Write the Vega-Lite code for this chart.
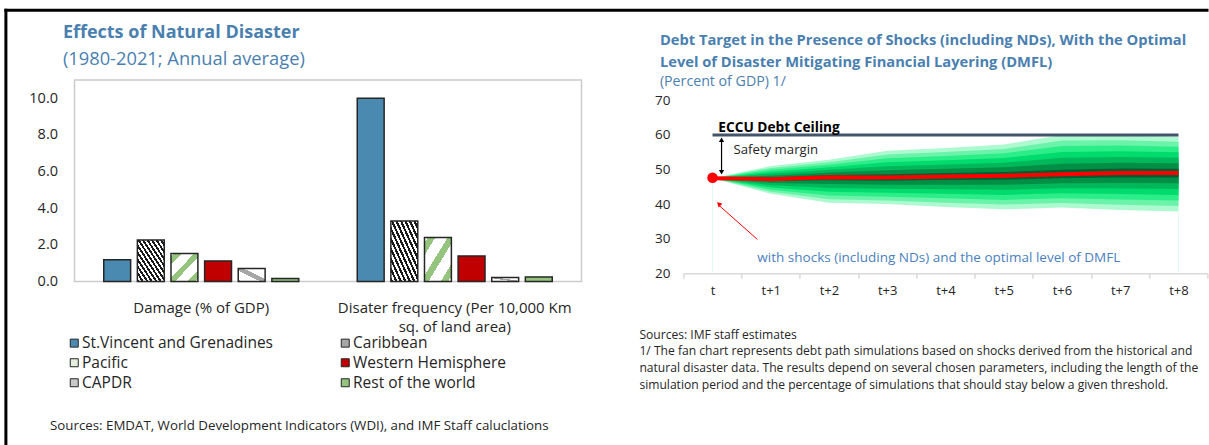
{
  "$schema": "https://vega.github.io/schema/vega-lite/v6.json",
  "background": "white",
  "padding": {"left": 1.5, "top": 9, "right": 0, "bottom": 0},
  "config": {
    "font": "Open Sans",
    "view": {"stroke": null},
    "axis": {"labelFont": "Open Sans", "titleFont": "Open Sans"},
    "legend": {"labelFont": "Open Sans"},
    "title": {"font": "Open Sans", "subtitleFont": "Open Sans"}
  },
  "bounds": "flush",
  "spacing": 101.9,
  "resolve": {"scale": {"fill": "independent", "color": "independent", "x": "independent", "y": "independent"}, "legend": {"fill": "independent", "color": "independent"}},
  "hconcat": [
    {
      "width": 507,
      "height": 201.6,
      "view": {"stroke": "#cccccc", "strokeWidth": 1.5},
      "title": {
        "text": "Effects of Natural Disaster",
        "subtitle": "(1980-2021; Annual average)",
        "anchor": "start", "frame": "group", "dx": -11.6, "offset": -58.5,
        "fontSize": 18, "fontWeight": "bold", "color": "#4a7fb0",
        "subtitleFontSize": 18.3, "subtitleColor": "#4a7fb0", "subtitlePadding": 9
      },
      "resolve": {"scale": {"x": "independent", "y": "independent"}, "axis": {"x": "independent", "y": "independent"}},
      "layer": [
        {
          "data": {"values": [
            {"group": "Damage (% of GDP)", "series": "St.Vincent and Grenadines", "value": 1.19},
            {"group": "Damage (% of GDP)", "series": "Caribbean", "value": 2.27},
            {"group": "Damage (% of GDP)", "series": "Pacific", "value": 1.53},
            {"group": "Damage (% of GDP)", "series": "Western Hemisphere", "value": 1.13},
            {"group": "Damage (% of GDP)", "series": "CAPDR", "value": 0.71},
            {"group": "Damage (% of GDP)", "series": "Rest of the world", "value": 0.17},
            {"group": "Disater frequency (Per 10,000 Km sq. of land area)", "series": "St.Vincent and Grenadines", "value": 10.0},
            {"group": "Disater frequency (Per 10,000 Km sq. of land area)", "series": "Caribbean", "value": 3.31},
            {"group": "Disater frequency (Per 10,000 Km sq. of land area)", "series": "Pacific", "value": 2.4},
            {"group": "Disater frequency (Per 10,000 Km sq. of land area)", "series": "Western Hemisphere", "value": 1.4},
            {"group": "Disater frequency (Per 10,000 Km sq. of land area)", "series": "CAPDR", "value": 0.22},
            {"group": "Disater frequency (Per 10,000 Km sq. of land area)", "series": "Rest of the world", "value": 0.25}
          ]},
          "mark": {"type": "bar", "stroke": "#262626", "strokeWidth": 1.5},
          "encoding": {
            "x": {
              "field": "group", "type": "nominal",
              "sort": ["Damage (% of GDP)", "Disater frequency (Per 10,000 Km sq. of land area)"],
              "scale": {"paddingInner": 0, "paddingOuter": 0},
              "axis": {
                "orient": "bottom",
                "labelExpr": "datum.value == 'Disater frequency (Per 10,000 Km sq. of land area)' ? ['Disater frequency (Per 10,000 Km', 'sq. of land area)'] : datum.label",
                "labelAngle": 0, "labelFontSize": 15, "labelColor": "#262626", "labelPadding": 19, "labelLineHeight": 18.5,
                "labelBaseline": "top", "labelLimit": 400,
                "ticks": false, "domain": false, "grid": false,
                "title": "Sources: EMDAT, World Development Indicators (WDI), and IMF Staff caluclations",
                "titleX": -25, "titleY": 144, "titleAlign": "left", "titleBaseline": "middle", "titleAnchor": "start",
                "titleFontSize": 13.3, "titleFontWeight": "normal", "titleColor": "#262626"
              }
            },
            "xOffset": {
              "field": "series", "type": "nominal",
              "sort": ["St.Vincent and Grenadines", "Caribbean", "Pacific", "Western Hemisphere", "CAPDR", "Rest of the world"],
              "scale": {"paddingInner": 0.2, "paddingOuter": 0.87}
            },
            "y": {
              "field": "value", "type": "quantitative",
              "scale": {"domain": [0, 11], "nice": false},
              "axis": {"orient": "left", "values": [0, 2, 4, 6, 8, 10], "format": ".1f", "title": null, "grid": false, "ticks": false, "domain": false,
                       "labelFontSize": 14.5, "labelColor": "#262626", "labelPadding": 17}
            },
            "fill": {
              "field": "series", "type": "nominal",
              "scale": {
                "domain": ["St.Vincent and Grenadines", "Caribbean", "Pacific", "Western Hemisphere", "CAPDR", "Rest of the world"],
                "range": ["#4a8ab0", "#a6a6a6", "#e4efdc", "#c00000", "#c9c9c9", "#94c47d"]
              },
              "condition": [
                {"test": "datum.series === 'Caribbean'", "value": {"gradient": "linear", "x1": 0, "y1": 1, "x2": 1, "y2": 0, "stops": [
                  {"offset": 0, "color": "#1a1a1a"}, {"offset": 0.0417, "color": "#1a1a1a"}, {"offset": 0.0417, "color": "#ffffff"}, {"offset": 0.0833, "color": "#ffffff"},
                  {"offset": 0.0833, "color": "#1a1a1a"}, {"offset": 0.125, "color": "#1a1a1a"}, {"offset": 0.125, "color": "#ffffff"}, {"offset": 0.1667, "color": "#ffffff"},
                  {"offset": 0.1667, "color": "#1a1a1a"}, {"offset": 0.2083, "color": "#1a1a1a"}, {"offset": 0.2083, "color": "#ffffff"}, {"offset": 0.25, "color": "#ffffff"},
                  {"offset": 0.25, "color": "#1a1a1a"}, {"offset": 0.2917, "color": "#1a1a1a"}, {"offset": 0.2917, "color": "#ffffff"}, {"offset": 0.3333, "color": "#ffffff"},
                  {"offset": 0.3333, "color": "#1a1a1a"}, {"offset": 0.375, "color": "#1a1a1a"}, {"offset": 0.375, "color": "#ffffff"}, {"offset": 0.4167, "color": "#ffffff"},
                  {"offset": 0.4167, "color": "#1a1a1a"}, {"offset": 0.4583, "color": "#1a1a1a"}, {"offset": 0.4583, "color": "#ffffff"}, {"offset": 0.5, "color": "#ffffff"},
                  {"offset": 0.5, "color": "#1a1a1a"}, {"offset": 0.5417, "color": "#1a1a1a"}, {"offset": 0.5417, "color": "#ffffff"}, {"offset": 0.5833, "color": "#ffffff"},
                  {"offset": 0.5833, "color": "#1a1a1a"}, {"offset": 0.625, "color": "#1a1a1a"}, {"offset": 0.625, "color": "#ffffff"}, {"offset": 0.6667, "color": "#ffffff"},
                  {"offset": 0.6667, "color": "#1a1a1a"}, {"offset": 0.7083, "color": "#1a1a1a"}, {"offset": 0.7083, "color": "#ffffff"}, {"offset": 0.75, "color": "#ffffff"},
                  {"offset": 0.75, "color": "#1a1a1a"}, {"offset": 0.7917, "color": "#1a1a1a"}, {"offset": 0.7917, "color": "#ffffff"}, {"offset": 0.8333, "color": "#ffffff"},
                  {"offset": 0.8333, "color": "#1a1a1a"}, {"offset": 0.875, "color": "#1a1a1a"}, {"offset": 0.875, "color": "#ffffff"}, {"offset": 0.9167, "color": "#ffffff"},
                  {"offset": 0.9167, "color": "#1a1a1a"}, {"offset": 0.9583, "color": "#1a1a1a"}, {"offset": 0.9583, "color": "#ffffff"}, {"offset": 1, "color": "#ffffff"}
                ]}},
                {"test": "datum.series === 'Pacific'", "value": {"gradient": "linear", "x1": 0, "y1": 0, "x2": 1, "y2": 1, "stops": [
                  {"offset": 0, "color": "#ffffff"}, {"offset": 0.06, "color": "#ffffff"}, {"offset": 0.06, "color": "#94c47d"}, {"offset": 0.2, "color": "#94c47d"},
                  {"offset": 0.2, "color": "#ffffff"}, {"offset": 0.43, "color": "#ffffff"}, {"offset": 0.43, "color": "#94c47d"}, {"offset": 0.57, "color": "#94c47d"},
                  {"offset": 0.57, "color": "#ffffff"}, {"offset": 0.8, "color": "#ffffff"}, {"offset": 0.8, "color": "#94c47d"}, {"offset": 0.94, "color": "#94c47d"},
                  {"offset": 0.94, "color": "#ffffff"}, {"offset": 1, "color": "#ffffff"}
                ]}},
                {"test": "datum.series === 'CAPDR'", "value": {"gradient": "linear", "x1": 0, "y1": 1, "x2": 1, "y2": 0, "stops": [
                  {"offset": 0, "color": "#a6a6a6"}, {"offset": 0.08, "color": "#a6a6a6"}, {"offset": 0.08, "color": "#ffffff"}, {"offset": 0.42, "color": "#ffffff"},
                  {"offset": 0.42, "color": "#a6a6a6"}, {"offset": 0.6, "color": "#a6a6a6"}, {"offset": 0.6, "color": "#ffffff"}, {"offset": 1, "color": "#ffffff"}
                ]}}
              ],
              "legend": {
                "orient": "none", "legendX": -8, "legendY": 255, "columns": 2, "direction": "horizontal", "columnPadding": 64, "rowPadding": 3,
                "title": null, "symbolType": "square", "symbolSize": 64, "symbolStrokeColor": "#262626", "symbolStrokeWidth": 1, "symbolOpacity": 1,
                "labelFontSize": 15.5, "labelColor": "#262626", "labelOffset": 0, "labelLimit": 400, "padding": 0
              }
            }
          }
        },
        {
          "data": {"values": [{"fx": 0, "fy": 0}]},
          "mark": {"type": "point", "opacity": 0},
          "encoding": {
            "x": {"field": "fx", "type": "quantitative", "scale": {"domain": [0, 1], "range": [-69.1, 1132]},
                  "axis": {"orient": "top", "offset": 70.2, "domainColor": "#000000", "domainWidth": 3, "domainCap": "square", "ticks": false, "labels": false, "grid": false, "title": null}},
            "y": {"field": "fy", "type": "quantitative", "scale": {"domain": [0, 1], "range": [363.5, -70.2]},
                  "axis": {"orient": "left", "offset": 69.1, "domainColor": "#000000", "domainWidth": 3, "domainCap": "square", "ticks": false, "labels": false, "grid": false, "title": null}}
          }
        }
      ]
    },
    {
      "width": 524.2,
      "height": 193.3,
      "title": {
        "text": ["Debt Target in the Presence of Shocks (including NDs), With the Optimal", "Level of Disaster Mitigating Financial Layering  (DMFL)"],
        "subtitle": "(Percent of GDP) 1/",
        "anchor": "start", "frame": "group", "dx": -23.5, "offset": -9.5,
        "fontSize": 14.7, "fontWeight": "bold", "color": "#4a7fb0", "lineHeight": 21.7,
        "subtitleFontSize": 14.2, "subtitleColor": "#4a7fb0", "subtitlePadding": 6
      },
      "encoding": {
        "x": {
          "type": "quantitative",
          "scale": {"domain": [-0.5, 8.5], "nice": false, "zero": false},
          "axis": {
            "values": [-0.5, 0.5, 1.5, 2.5, 3.5, 4.5, 5.5, 6.5, 7.5, 8.5],
            "labelExpr": "datum.value < 0 ? 't' : (datum.value > 8 ? '' : 't+' + (datum.value + 0.5))",
            "labelOffset": 29.1, "labelOverlap": false, "labelBound": false, "labelFlush": false,
            "labelFontSize": 13, "labelColor": "#262626", "labelPadding": 6,
            "tickSize": 5, "tickColor": "#d9d9d9", "tickWidth": 1.5, "domainColor": "#d9d9d9", "domainWidth": 1.5, "grid": false,
            "title": ["Sources: IMF staff estimates", "1/ The fan chart represents debt path simulations based on shocks derived from the historical and", "natural disaster data. The results depend on several chosen parameters, including the length of the", "simulation period and the percentage of simulations that should stay below a given threshold."],
            "titleX": -44.5, "titleY": 55, "titleAlign": "left", "titleBaseline": "top", "titleAnchor": "start",
            "titleFontSize": 12.1, "titleFontWeight": "normal", "titleColor": "#262626", "titleLineHeight": 16.7
          }
        },
        "y": {
          "type": "quantitative",
          "scale": {"domain": [20, 75.88], "nice": false, "zero": false},
          "axis": {"values": [20, 30, 40, 50, 60, 70], "title": null, "grid": false, "ticks": false, "domain": false,
                   "labelFontSize": 13.5, "labelColor": "#262626", "labelPadding": 13.5}
        }
      },
      "layer": [
        {
          "data": {"values": [{"x": 0, "ya": 20, "yb": 47.5}, {"x": 8, "ya": 20, "yb": 37.9}]},
          "mark": {"type": "rule", "color": "#e3faee", "strokeWidth": 1},
          "encoding": {"x": {"field": "x", "type": "quantitative"}, "y": {"field": "ya", "type": "quantitative"}, "y2": {"field": "yb"}}
        },
        {
          "data": {"values": [
            {"x": 0, "band": 1, "lo": 47.5, "hi": 47.5}, {"x": 1, "band": 1, "lo": 43.0, "hi": 51.0}, {"x": 2, "band": 1, "lo": 40.4, "hi": 52.8}, {"x": 3, "band": 1, "lo": 40.0, "hi": 55.4}, {"x": 4, "band": 1, "lo": 39.2, "hi": 56.2}, {"x": 5, "band": 1, "lo": 38.5, "hi": 57.2}, {"x": 6, "band": 1, "lo": 39.0, "hi": 60.0}, {"x": 7, "band": 1, "lo": 38.3, "hi": 60.0}, {"x": 8, "band": 1, "lo": 37.9, "hi": 59.5},
            {"x": 0, "band": 2, "lo": 47.5, "hi": 47.5}, {"x": 1, "band": 2, "lo": 43.59, "hi": 50.47}, {"x": 2, "band": 2, "lo": 41.44, "hi": 52.1}, {"x": 3, "band": 2, "lo": 41.08, "hi": 54.32}, {"x": 4, "band": 2, "lo": 40.43, "hi": 55.05}, {"x": 5, "band": 2, "lo": 39.86, "hi": 55.94}, {"x": 6, "band": 2, "lo": 40.34, "hi": 58.4}, {"x": 7, "band": 2, "lo": 39.8, "hi": 58.46}, {"x": 8, "band": 2, "lo": 39.45, "hi": 58.03},
            {"x": 0, "band": 3, "lo": 47.5, "hi": 47.5}, {"x": 1, "band": 3, "lo": 44.18, "hi": 49.94}, {"x": 2, "band": 3, "lo": 42.47, "hi": 51.4}, {"x": 3, "band": 3, "lo": 42.16, "hi": 53.24}, {"x": 4, "band": 3, "lo": 41.66, "hi": 53.9}, {"x": 5, "band": 3, "lo": 41.22, "hi": 54.68}, {"x": 6, "band": 3, "lo": 41.69, "hi": 56.81}, {"x": 7, "band": 3, "lo": 41.3, "hi": 56.92}, {"x": 8, "band": 3, "lo": 41.01, "hi": 56.56},
            {"x": 0, "band": 4, "lo": 47.5, "hi": 47.5}, {"x": 1, "band": 4, "lo": 44.81, "hi": 49.37}, {"x": 2, "band": 4, "lo": 43.58, "hi": 50.65}, {"x": 3, "band": 4, "lo": 43.31, "hi": 52.09}, {"x": 4, "band": 4, "lo": 42.98, "hi": 52.67}, {"x": 5, "band": 4, "lo": 42.67, "hi": 53.33}, {"x": 6, "band": 4, "lo": 43.13, "hi": 55.1}, {"x": 7, "band": 4, "lo": 42.9, "hi": 55.27}, {"x": 8, "band": 4, "lo": 42.67, "hi": 54.99},
            {"x": 0, "band": 5, "lo": 47.5, "hi": 47.5}, {"x": 1, "band": 5, "lo": 45.44, "hi": 48.8}, {"x": 2, "band": 5, "lo": 44.69, "hi": 49.9}, {"x": 3, "band": 5, "lo": 44.47, "hi": 50.93}, {"x": 4, "band": 5, "lo": 44.3, "hi": 51.44}, {"x": 5, "band": 5, "lo": 44.13, "hi": 51.98}, {"x": 6, "band": 5, "lo": 44.57, "hi": 53.39}, {"x": 7, "band": 5, "lo": 44.51, "hi": 53.62}, {"x": 8, "band": 5, "lo": 44.34, "hi": 53.41},
            {"x": 0, "band": 6, "lo": 47.5, "hi": 47.5}, {"x": 1, "band": 6, "lo": 46.07, "hi": 48.23}, {"x": 2, "band": 6, "lo": 45.8, "hi": 49.15}, {"x": 3, "band": 6, "lo": 45.62, "hi": 49.78}, {"x": 4, "band": 6, "lo": 45.62, "hi": 50.21}, {"x": 5, "band": 6, "lo": 45.58, "hi": 50.63}, {"x": 6, "band": 6, "lo": 46.01, "hi": 51.68}, {"x": 7, "band": 6, "lo": 46.11, "hi": 51.97}, {"x": 8, "band": 6, "lo": 46.0, "hi": 51.84},
            {"x": 0, "band": 7, "lo": 47.5, "hi": 47.5}, {"x": 1, "band": 7, "lo": 46.7, "hi": 47.66}, {"x": 2, "band": 7, "lo": 46.91, "hi": 48.4}, {"x": 3, "band": 7, "lo": 46.78, "hi": 48.62}, {"x": 4, "band": 7, "lo": 46.94, "hi": 48.98}, {"x": 5, "band": 7, "lo": 47.04, "hi": 49.28}, {"x": 6, "band": 7, "lo": 47.45, "hi": 49.97}, {"x": 7, "band": 7, "lo": 47.72, "hi": 50.32}, {"x": 8, "band": 7, "lo": 47.67, "hi": 50.26}
          ]},
          "mark": {"type": "area", "opacity": 1},
          "encoding": {
            "x": {"field": "x", "type": "quantitative"},
            "y": {"field": "lo", "type": "quantitative"},
            "y2": {"field": "hi"},
            "color": {"field": "band", "type": "ordinal", "scale": {"domain": [1, 2, 3, 4, 5, 6, 7], "range": ["#adf9d0", "#6cf3aa", "#2cee88", "#00db6e", "#00b85a", "#008f45", "#005f30"]}, "legend": null}
          }
        },
        {
          "data": {"values": [
            {"x": 0, "m": 47.5}, {"x": 1, "m": 47.2}, {"x": 2, "m": 47.8}, {"x": 3, "m": 47.7}, {"x": 4, "m": 48.0},
            {"x": 5, "m": 48.2}, {"x": 6, "m": 48.6}, {"x": 7, "m": 49.0}, {"x": 8, "m": 49.0}
          ]},
          "mark": {"type": "line", "color": "#ff0000", "strokeWidth": 4},
          "encoding": {"x": {"field": "x", "type": "quantitative"}, "y": {"field": "m", "type": "quantitative"}}
        },
        {
          "data": {"values": [{"x0": 0, "x1": 8, "y": 60}]},
          "mark": {"type": "rule", "color": "#44546a", "strokeWidth": 3},
          "encoding": {"x": {"field": "x0", "type": "quantitative"}, "x2": {"field": "x1"}, "y": {"field": "y", "type": "quantitative"}}
        },
        {
          "data": {"values": [{"x": 0, "y": 47.6}]},
          "mark": {"type": "point", "filled": true, "color": "#ff0000", "size": 110, "opacity": 1},
          "encoding": {"x": {"field": "x", "type": "quantitative"}, "y": {"field": "y", "type": "quantitative"}}
        },
        {
          "data": {"values": [{"x": 0.155, "ya": 49.3, "yb": 58.5}]},
          "mark": {"type": "rule", "color": "#000000", "strokeWidth": 1.2},
          "encoding": {"x": {"field": "x", "type": "quantitative"}, "y": {"field": "ya", "type": "quantitative"}, "y2": {"field": "yb"}}
        },
        {
          "data": {"values": [{"x": 0.155, "y": 58.6, "ang": 0}, {"x": 0.155, "y": 49.2, "ang": 180}]},
          "mark": {"type": "point", "shape": "triangle-up", "filled": true, "color": "#000000", "size": 28, "opacity": 1},
          "encoding": {"x": {"field": "x", "type": "quantitative"}, "y": {"field": "y", "type": "quantitative"}, "angle": {"field": "ang", "type": "quantitative", "scale": null}}
        },
        {
          "data": {"values": [{"x": 0.77, "y": 29.8}, {"x": 0.1, "y": 39.8}]},
          "mark": {"type": "line", "color": "#ff0000", "strokeWidth": 1},
          "encoding": {"x": {"field": "x", "type": "quantitative"}, "y": {"field": "y", "type": "quantitative"}}
        },
        {
          "data": {"values": [{"x": 0.107, "y": 40.05, "ang": 312}]},
          "mark": {"type": "point", "shape": "triangle-up", "filled": true, "color": "#ff0000", "size": 30, "opacity": 1},
          "encoding": {"x": {"field": "x", "type": "quantitative"}, "y": {"field": "y", "type": "quantitative"}, "angle": {"field": "ang", "type": "quantitative", "scale": null}}
        },
        {
          "data": {"values": [{"x": 0.1, "y": 60.9, "label": "ECCU Debt Ceiling"}]},
          "mark": {"type": "text", "align": "left", "baseline": "alphabetic", "fontWeight": "bold", "fontSize": 13.7, "color": "#000000"},
          "encoding": {"x": {"field": "x", "type": "quantitative"}, "y": {"field": "y", "type": "quantitative"}, "text": {"field": "label"}}
        },
        {
          "data": {"values": [{"x": 0.36, "y": 55.5, "label": "Safety margin"}]},
          "mark": {"type": "text", "align": "left", "baseline": "middle", "fontSize": 13.2, "color": "#262626"},
          "encoding": {"x": {"field": "x", "type": "quantitative"}, "y": {"field": "y", "type": "quantitative"}, "text": {"field": "label"}}
        },
        {
          "data": {"values": [{"x": 0.77, "y": 24.5, "label": "with shocks (including NDs) and the optimal level of DMFL"}]},
          "mark": {"type": "text", "align": "left", "baseline": "middle", "fontSize": 13.5, "color": "#4a7fc0"},
          "encoding": {"x": {"field": "x", "type": "quantitative"}, "y": {"field": "y", "type": "quantitative"}, "text": {"field": "label"}}
        }
      ]
    }
  ]
}
